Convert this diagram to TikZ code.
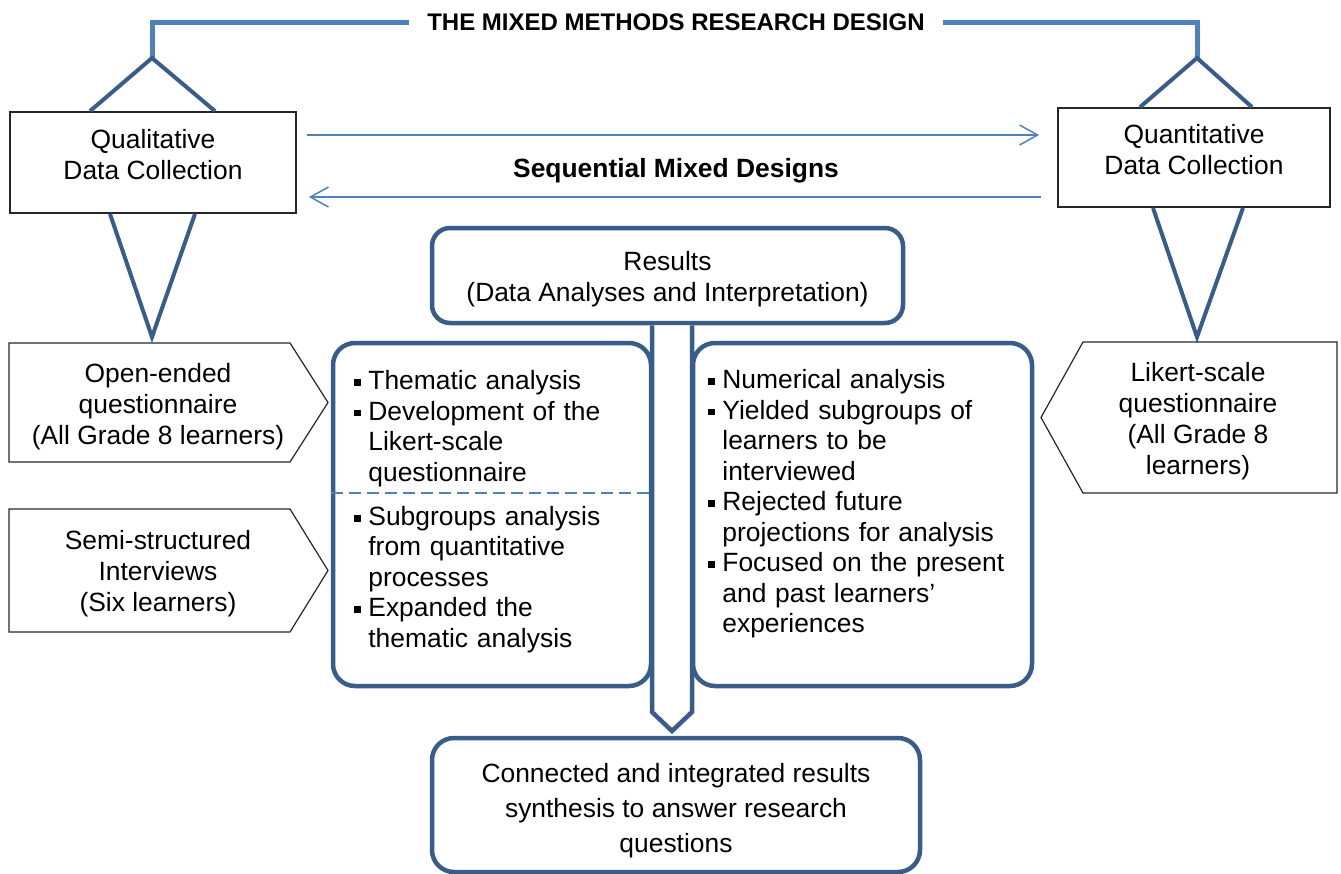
\documentclass[tikz,border=0pt]{standalone}
\usepackage{fontspec}
\setmainfont{Liberation Sans}
\usetikzlibrary{calc,positioning,arrows.meta}
\definecolor{darkblue}{HTML}{385D8A}
\definecolor{lightblue}{HTML}{4F81BD}
\newcommand{\sqb}{\makebox[7pt][l]{\rule[1.8pt]{3.4pt}{3.4pt}}}
\newcommand{\ind}{\hspace*{7pt}}
\newcommand{\padtop}[1]{\rule{0pt}{#1}}
\newcommand{\padbot}[1]{\rule[-#1]{0pt}{#1}}

\begin{document}
\begin{tikzpicture}[x=0.5pt, y=-0.5pt, every node/.style={font=\fontsize{13.2}{15.5}\selectfont},
  plainbox/.style={draw=black!85, line width=0.9pt, fill=white, align=center},
  arrowbox/.style={align=center, inner sep=0pt},
  thinline/.style={draw=black!85, line width=0.6pt},
  rbox/.style={draw=darkblue, line width=2.25pt, rounded corners=11pt, fill=white, align=center},
  diam/.style={draw=darkblue, line width=2pt},
  topline/.style={draw=lightblue, line width=2.5pt},
  seq/.style={draw=lightblue, line width=0.75pt, ->, >={Straight Barb[length=9pt,width=10pt]}},
  blockarrow/.style={draw=darkblue, line width=2.25pt, fill=white},
  itemtext/.style={align=left, text width=165pt, inner sep=0pt, font=\fontsize{13.2}{15.25}\selectfont}]
  \useasboundingbox (0,0) rectangle (1341,874);

  \node[font=\fontsize{12}{14}\selectfont\bfseries, inner xsep=9pt] (title) at (676,22) {THE MIXED METHODS RESEARCH DESIGN};
  \coordinate (qlTop) at (152,58);
  \coordinate (qnTop) at (1197,58);
  \coordinate (qlBot) at (152,337);
  \coordinate (qnBot) at (1197,337);
  \draw[topline] (title.west) -| (qlTop);
  \draw[topline] (title.east) -| (qnTop);

  \node[plainbox, minimum width=143pt, minimum height=50.5pt] (ql) at (153,162.5) {Qualitative\\Data Collection\padbot{8pt}};
  \node[plainbox, minimum width=136pt, minimum height=49.5pt] (qn) at (1194,157.5) {Quantitative\\Data Collection\padbot{8.5pt}};
  \draw[diam] ([xshift=-31.5pt]ql.north) -- (qlTop) -- ([xshift=31pt]ql.north);
  \draw[diam] ([xshift=-21.5pt]ql.south) -- (qlBot) -- ([xshift=21pt]ql.south);
  \draw[diam] ([xshift=-27pt]qn.north) -- (qnTop) -- ([xshift=29pt]qn.north);
  \draw[diam] ([xshift=-20.5pt]qn.south) -- (qnBot) -- ([xshift=24.5pt]qn.south);

  \coordinate (a1) at ([yshift=13.75pt]ql.east);
  \coordinate (b1) at ([yshift=-19.75pt]qn.west);
  \draw[seq, shorten <=5pt, shorten >=9pt] (a1) -- (a1 -| qn.west);
  \draw[seq, shorten <=8pt, shorten >=6pt] (b1) -- (b1 -| ql.east);
  \node[font=\fontsize{13.2}{15.5}\selectfont\bfseries] (seqlbl) at (676,171) {Sequential Mixed Designs};

  \node[rbox, rounded corners=9pt, minimum width=235.5pt, minimum height=47.5pt] (res) at (667.5,275.5) {\padtop{13.5pt}Results\\(Data Analyses and Interpretation)};

  \draw[thinline] (9,343) -- (290,343) -- (328,402.5) -- (290,462) -- (9,462) -- cycle;
  \node[arrowbox] (openq) at (158,407) {Open-ended\\questionnaire\\(All Grade 8 learners)};
  \draw[thinline] (9,509) -- (290,509) -- (328,570.5) -- (290,632) -- (9,632) -- cycle;
  \node[arrowbox] (semiq) at (158,574) {Semi-structured\\Interviews\\(Six learners)};
  \draw[thinline] (1337,342) -- (1083,342) -- (1041,417.5) -- (1083,493) -- (1337,493) -- cycle;
  \node[arrowbox] (likq) at (1198,421) {Likert-scale\\questionnaire\\(All Grade 8\\learners)};

  \node[rbox, minimum width=159pt, minimum height=171.5pt] (qualres) at (492,514.5) {};
  \node[rbox, minimum width=169.5pt, minimum height=171.5pt] (quantres) at (862.5,514.5) {};
  \draw[lightblue, line width=0.9pt, dash pattern=on 6pt off 3pt] ([yshift=10.75pt]qualres.west) -- ([yshift=10.75pt]qualres.east);
  \node[itemtext, anchor=north west] (qualtxt) at (354,370) {\sqb Thematic analysis\\\sqb Development of the\\\ind Likert-scale\\\ind questionnaire\\[6.8pt]\sqb Subgroups analysis\\\ind from quantitative\\\ind processes\\\sqb Expanded the\\\ind thematic analysis};
  \node[itemtext, anchor=north west] (quanttxt) at (708,369) {\sqb Numerical analysis\\\sqb Yielded subgroups of\\\ind learners to be\\\ind interviewed\\\sqb Rejected future\\\ind projections for analysis\\\sqb Focused on the present\\\ind and past learners’\\\ind experiences};

  \coordinate (tip) at (672,731);
  \draw[blockarrow] (res.south -| 652,0) -- (652,712) -- (tip) -- (692,712) -- (res.south -| 692,0);

  \node[rbox, minimum width=244pt, minimum height=67pt, font=\fontsize{13.2}{17.5}\selectfont] (final) at (676,805) {\padtop{15.5pt}Connected and integrated results\\synthesis to answer research\\questions};
\end{tikzpicture}
\end{document}
